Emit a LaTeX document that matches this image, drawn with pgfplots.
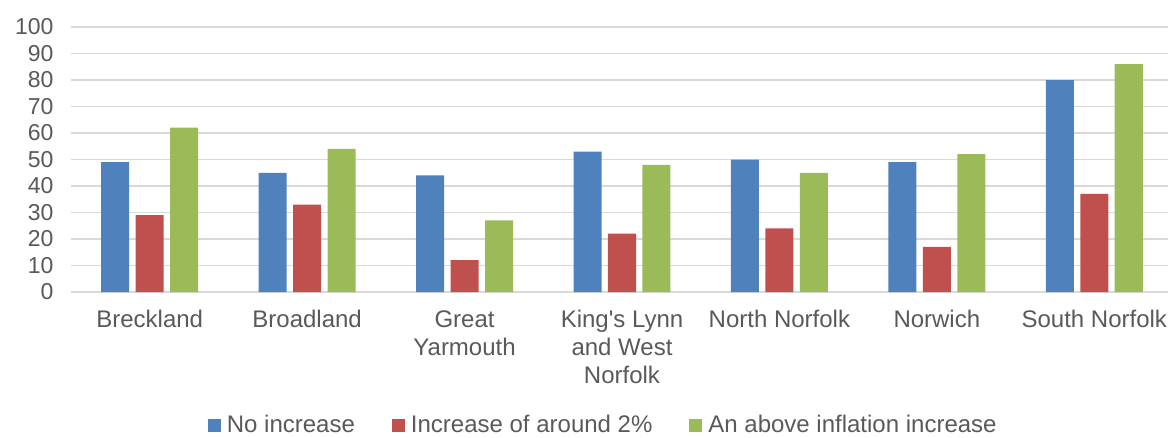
\documentclass[border=0pt]{standalone}
\usepackage{pgfplots}
\pgfplotsset{compat=1.18}
\usepackage{fontspec}
\setmainfont{Liberation Sans}
\definecolor{cblue}{HTML}{4F81BD}
\definecolor{cred}{HTML}{C0504D}
\definecolor{cgreen}{HTML}{9BBB59}
\definecolor{gridgray}{HTML}{D9D9D9}
\definecolor{textgray}{HTML}{595959}
\begin{document}
\begin{tikzpicture}[x=1pt,y=1pt]
\useasboundingbox (0,0) rectangle (1168,437);
\begin{axis}[
  at={(71pt,145pt)}, anchor=south west,
  scale only axis, width=1102pt, height=265pt,
  xmin=-0.5, xmax=6.5, ymin=0, ymax=100,
  ytick={0,10,...,100},
  xtick={0,...,6},
  xticklabels={Breckland, Broadland, Great\\Yarmouth, King\textquotesingle s Lynn\\and West\\Norfolk, North Norfolk, Norwich, South Norfolk},
  axis lines*=left,
  x axis line style={draw=gridgray, line width=1.6pt},
  y axis line style={draw=none},
  major tick length=0pt,
  /pgf/number format/assume math mode=true,
  ymajorgrids, grid style={draw=gridgray, line width=1.6pt},
  xticklabel style={font=\fontsize{24}{28}\selectfont, text=textgray, align=center, yshift=-15pt},
  yticklabel style={font=\fontsize{23}{27}\selectfont, text=textgray, xshift=-14pt},
  ybar, bar width=0.178,
  legend style={at={(0.483,-0.502)}, anchor=center, legend columns=-1, draw=none, fill=none,
    font=\fontsize{24}{27}\selectfont, text=textgray,
    /tikz/every odd column/.append style={column sep=4pt},
    /tikz/every even column/.append style={column sep=35pt}},
  legend image code/.code={\fill[#1] (0pt,-6.5pt) rectangle (13pt,6.5pt);},
]
\addplot[fill=cblue, draw=none, bar shift=-0.219] coordinates {(0,49) (1,45) (2,44) (3,53) (4,50) (5,49) (6,80)};
\addplot[fill=cred, draw=none, bar shift=0] coordinates {(0,29) (1,33) (2,12) (3,22) (4,24) (5,17) (6,37)};
\addplot[fill=cgreen, draw=none, bar shift=0.219] coordinates {(0,62) (1,54) (2,27) (3,48) (4,45) (5,52) (6,86)};
\legend{No increase, Increase of around 2\%, An above inflation increase}
\end{axis}
\end{tikzpicture}
\end{document}
